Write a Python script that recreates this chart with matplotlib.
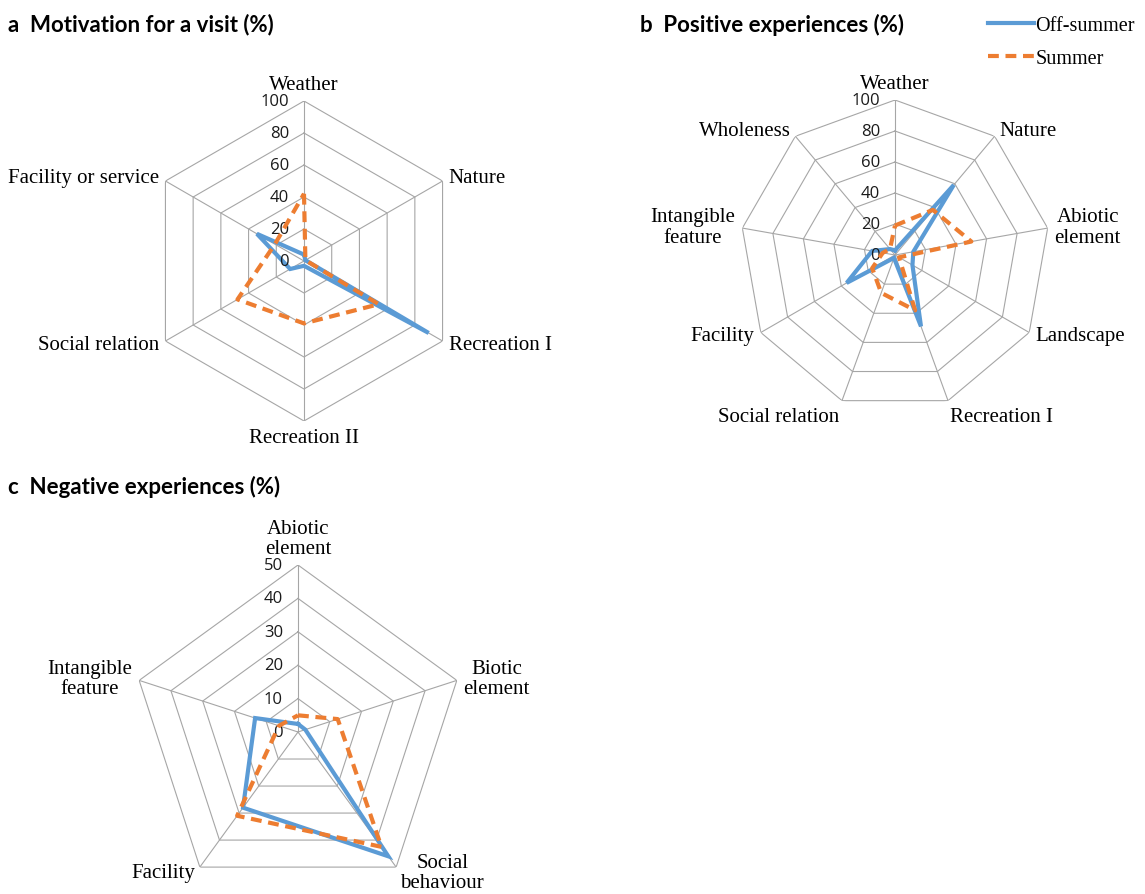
import numpy as np
import matplotlib.pyplot as plt

# a  motivation
motiv_cats = ['Weather', 'Nature', 'Recreation I', 'Recreation II',
              'Social relation', 'Facility or service']
motiv_off = [4, 1, 90, 3, 10, 34]
motiv_sum = [42, 1, 54, 39, 48, 21]
motiv_ticks = [0, 20, 40, 60, 80, 100]

# b  positive experiences
pos_cats = ['Weather', 'Nature', 'Abiotic\nelement', 'Landscape', 'Recreation I',
            'Social relation', 'Facility', 'Intangible\nfeature', 'Wholeness']
pos_off = [3, 59, 12, 13, 49, 2, 36, 15, 5]
pos_sum = [19, 38, 50, 3, 38, 26, 17, 8, 5]
pos_ticks = [0, 20, 40, 60, 80, 100]

# c  negative experiences
neg_cats = ['Abiotic\nelement', 'Biotic\nelement', 'Social\nbehaviour',
            'Facility', 'Intangible\nfeature']
neg_off = [2.4, 2.3, 46, 28, 13.5]
neg_sum = [5, 12.5, 42.5, 31, 6]
neg_ticks = [0, 10, 20, 30, 40, 50]

BLUE = '#5B9BD5'
ORANGE = '#ED7D31'
GRID = '#A6A6A6'
SERIF = 'Liberation Serif'
SANS = 'Open Sans'

W, H = 1145, 895
fig = plt.figure(figsize=(W / 100, H / 100), dpi=100)


def radar(cx, cy, R, cats, off, summ, ticks, tick_dx=-15):
    ax = fig.add_axes([(cx - R) / W, (H - cy - R) / H, 2 * R / W, 2 * R / H],
                      projection='polar')
    n = len(cats)
    ang = np.arange(n) * 2 * np.pi / n
    rmax = ticks[-1]
    ax.set_theta_zero_location('N')
    ax.set_theta_direction(-1)
    ax.set_ylim(0, rmax)
    ax.grid(False)
    ax.set_xticks([])
    ax.set_yticks([])
    ax.spines['polar'].set_visible(False)
    ax.patch.set_visible(False)

    ring = np.append(ang, ang[0])
    for t in ticks[1:]:
        ax.plot(ring, [t] * (n + 1), color=GRID, lw=0.8, zorder=1)
    for a in ang:
        ax.plot([a, a], [0, rmax], color=GRID, lw=0.8, zorder=1)

    ax.plot(ring, np.append(off, off[0]), color=BLUE, lw=3.0, zorder=3,
            solid_joinstyle='miter')
    ax.plot(ring, np.append(summ, summ[0]), color=ORANGE, lw=3.0, zorder=4,
            linestyle=(0, (2.6, 1.6)), dash_capstyle='butt')

    for t in ticks:
        ax.annotate(str(t), xy=(0, t), xytext=(tick_dx, 0), textcoords='offset pixels',
                    ha='right', va='center', fontsize=12, family=SANS, color='#1a1a1a')

    for a, c in zip(ang, cats):
        s, co = np.sin(a), np.cos(a)
        ha = 'left' if s > 0.1 else ('right' if s < -0.1 else 'center')
        va = 'bottom' if co > 0.9 else ('top' if co < -0.9 else 'center')
        ax.annotate(c, xy=(a, rmax), xytext=(7 * s, 7 * co), textcoords='offset pixels',
                    ha=ha, va=va, multialignment='center', fontsize=15,
                    family=SERIF, linespacing=1.1)
    return ax


radar(304, 262, 160, motiv_cats, motiv_off, motiv_sum, motiv_ticks)
radar(895, 256, 155, pos_cats, pos_off, pos_sum, pos_ticks)
radar(298, 733, 167, neg_cats, neg_off, neg_sum, neg_ticks)

title_kw = dict(fontsize=16, fontweight='bold', family='Lato', va='center', ha='left')
fig.text(8 / W, 1 - 25 / H, 'a  Motivation for a visit (%)', **title_kw)
fig.text(640 / W, 1 - 25 / H, 'b  Positive experiences (%)', **title_kw)
fig.text(8 / W, 1 - 487 / H, 'c  Negative experiences (%)', **title_kw)

# legend
h1, = plt.plot([], [], color=BLUE, lw=3.0)
h2, = plt.plot([], [], color=ORANGE, lw=3.0, linestyle=(0, (2.6, 1.6)))
fig.legend([h1, h2], ['Off-summer', 'Summer'], loc='upper left',
           bbox_to_anchor=(988 / W, 1 - 17 / H), frameon=False,
           prop={'family': SERIF, 'size': 14.5}, handlelength=2.3,
           handletextpad=0.05, labelspacing=0.68, borderpad=0, borderaxespad=0)

fig.savefig('out.png', dpi=100, facecolor='white')
